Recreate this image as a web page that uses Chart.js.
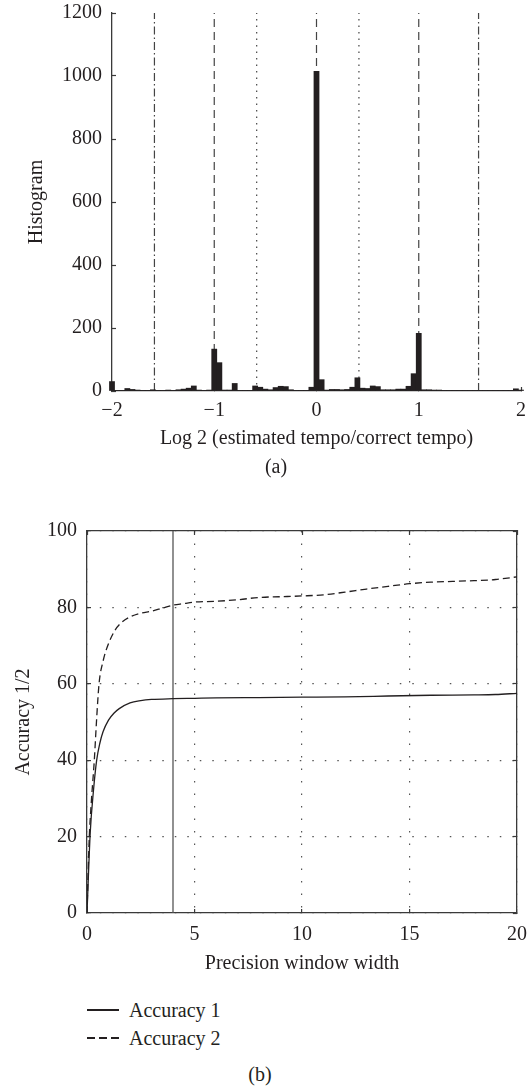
<!DOCTYPE html>
<html>
<head>
<meta charset="utf-8">
<script src="https://cdn.jsdelivr.net/npm/chart.js@4.4.1/dist/chart.umd.min.js"></script>
<style>
  body { margin: 0; background: #fff; width: 530px; height: 1088px; position: relative; overflow: hidden;
         font-family: "Liberation Serif", "Times New Roman", serif; color: #231f20; }
  canvas { position: absolute; left: 0; }
  #histChart { top: 0; }
  #accChart { top: 500px; }
  .caption { position: absolute; font-size: 20px; line-height: 24px; transform: translateX(-50%); }
  .legend { position: absolute; left: 87px; top: 996px; font-size: 20px; }
  .legend .row { display: flex; align-items: center; height: 28px; }
  .legend .swatch { width: 32px; height: 1.3px; margin-right: 10px; background: #231f20; }
  .legend .swatch.dashed { background: repeating-linear-gradient(to right, #231f20 0 8px, transparent 8px 12px); }
</style>
</head>
<body>
<canvas id="histChart" width="530" height="455"></canvas>
<div class="caption" style="left:276px; top:454px;">(a)</div>
<canvas id="accChart" width="530" height="480"></canvas>
<div class="legend">
  <div class="row"><span class="swatch"></span>Accuracy 1</div>
  <div class="row"><span class="swatch dashed"></span>Accuracy 2</div>
</div>
<div class="caption" style="left:260px; top:1062px;">(b)</div>

<script>
// (a) histogram of log2(estimated tempo / correct tempo)
const binCenters = [
  -2, -1.95, -1.9, -1.85, -1.8, -1.75, -1.7, -1.65, -1.6, -1.55,
  -1.5, -1.45, -1.4, -1.35, -1.3, -1.25, -1.2, -1.15, -1.1, -1.05,
  -1, -0.95, -0.9, -0.85, -0.8, -0.75, -0.7, -0.65, -0.6, -0.55,
  -0.5, -0.45, -0.4, -0.35, -0.3, -0.25, -0.2, -0.15, -0.1, -0.05,
  0, 0.05, 0.1, 0.15, 0.2, 0.25, 0.3, 0.35, 0.4, 0.45,
  0.5, 0.55, 0.6, 0.65, 0.7, 0.75, 0.8, 0.85, 0.9, 0.95,
  1, 1.05, 1.1, 1.15, 1.2, 1.25, 1.3, 1.35, 1.4, 1.45,
  1.5, 1.55, 1.6, 1.65, 1.7, 1.75, 1.8, 1.85, 1.9, 1.95,
  2
];
const binCounts = [
  30, 2, 2, 8, 5, 3, 2, 2, 4, 2,
  2, 3, 2, 4, 6, 9, 16, 3, 2, 3,
  133, 90, 3, 3, 24, 2, 2, 2, 16, 12,
  6, 4, 11, 15, 14, 4, 2, 2, 2, 12,
  1015, 36, 3, 5, 5, 4, 5, 12, 42, 9,
  8, 16, 14, 4, 4, 4, 6, 6, 15, 55,
  183, 4, 4, 3, 3, 2, 2, 2, 2, 2,
  2, 2, 2, 2, 2, 2, 2, 2, 2, 7,
  3
];
// reference lines: log2 of 1/3, 1/2, 2/3, 1, 4/3, 2, 3
const refLineX = [-1.585, -1, -0.585, 0, 0.415, 1, 1.585];
const refLineKind = ['dashdot', 'dash', 'dot', 'dash', 'dot', 'dash', 'dashdot'];
const histXTicks = [-2, -1, 0, 1, 2];
const histYTicks = [0, 200, 400, 600, 800, 1000, 1200];

// (b) accuracy vs precision window width
const acc1X = [0, 0.15, 0.3, 0.45, 0.6, 0.75, 1, 1.25, 1.5, 2, 2.5, 3, 4, 5, 6, 8, 10, 12, 14, 16, 18, 19, 20];
const acc1Y = [0, 21, 32, 40, 44.5, 47.5, 50.5, 52.3, 53.5, 55, 55.6, 55.9, 56.1, 56.2, 56.3, 56.4, 56.5, 56.6, 56.8, 57, 57.1, 57.2, 57.5];
const acc2X = [0, 0.1, 0.2, 0.34, 0.45, 0.56, 0.75, 1, 1.3, 1.6, 2, 2.5, 3, 3.5, 4, 4.5, 5, 6, 7, 8, 9, 10, 11, 12, 13, 14, 15, 16, 17, 18, 19, 20];
const acc2Y = [0, 19, 29, 40, 51, 60, 66, 70.5, 74, 76, 77.5, 78.5, 79, 79.8, 80.6, 81, 81.4, 81.6, 82, 82.6, 82.8, 83, 83.3, 84, 84.8, 85.5, 86.2, 86.6, 86.8, 87, 87.3, 88];
const markerX = 4;
const accXTicks = [0, 5, 10, 15, 20];
const accYTicks = [0, 20, 40, 60, 80, 100];

const ink = '#231f20';
const axisGray = '#3a3a3a';
Chart.defaults.font.family = '"Liberation Serif", "Times New Roman", serif';
Chart.defaults.font.size = 20;
Chart.defaults.color = ink;

const dashes = { dash: [8, 5], dot: [1.5, 5], dashdot: [8, 3, 1.5, 3] };
const minus = v => (v < 0 ? '\u2212' + Math.abs(v) : String(v));

// fix an axis box size and drop the label overhang padding, so the plot area
// is set only by layout.padding
const fixBox = (w, h) => s => {
  if (w !== null) s.width = w;
  if (h !== null) s.height = h;
  s.paddingTop = 0; s.paddingBottom = 0; s.paddingLeft = 0; s.paddingRight = 0;
};

const histDatasets = [{
  type: 'bar',
  data: binCenters.map((x, i) => ({ x: x, y: binCounts[i] })),
  backgroundColor: ink,
  barPercentage: 1,
  categoryPercentage: 1,
  clip: false,
  order: 0
}];
refLineX.forEach((x, i) => {
  histDatasets.push({
    type: 'line',
    data: [{ x: x, y: 0 }, { x: x, y: 1200 }],
    borderColor: '#444',
    borderWidth: 1.2,
    borderDash: dashes[refLineKind[i]],
    pointRadius: 0,
    order: 1
  });
});

new Chart(document.getElementById('histChart'), {
  type: 'bar',
  data: { datasets: histDatasets },
  options: {
    responsive: false,
    animation: false,
    layout: { padding: { left: 25, right: 9, top: 13, bottom: 0 } },
    plugins: { legend: { display: false }, tooltip: { enabled: false } },
    scales: {
      x: {
        type: 'linear', min: -2, max: 2, offset: false,
        afterBuildTicks: s => { s.ticks = histXTicks.map(v => ({ value: v })); },
        ticks: { padding: 12, callback: v => minus(v), maxRotation: 0 },
        grid: { offset: false, drawOnChartArea: false, drawTicks: true, tickLength: -4, color: axisGray, tickWidth: 1.2 },
        border: { display: true, color: axisGray, width: 1.3 },
        title: { display: true, text: 'Log 2 (estimated tempo/correct tempo)', padding: { top: 0, bottom: 4 } },
        afterFit: fixBox(null, 64)
      },
      y: {
        min: 0, max: 1200,
        afterBuildTicks: s => { s.ticks = histYTicks.map(v => ({ value: v })); },
        ticks: { padding: 14, callback: v => String(v) },
        grid: { drawOnChartArea: false, drawTicks: true, tickLength: -4, color: axisGray, tickWidth: 1.2 },
        border: { display: true, color: axisGray, width: 1.3 },
        title: { display: true, text: 'Histogram', padding: { top: 0, bottom: 0 } },
        afterFit: fixBox(87, null)
      }
    }
  }
});

const gridStyle = { color: '#555', lineWidth: 1.2, drawTicks: true, tickLength: -4, tickColor: axisGray, tickWidth: 1.2 };
new Chart(document.getElementById('accChart'), {
  type: 'line',
  data: {
    datasets: [
      {
        label: 'Accuracy 1',
        data: acc1X.map((x, i) => ({ x: x, y: acc1Y[i] })),
        borderColor: ink, borderWidth: 1.3, pointRadius: 0,
        cubicInterpolationMode: 'monotone'
      },
      {
        label: 'Accuracy 2',
        data: acc2X.map((x, i) => ({ x: x, y: acc2Y[i] })),
        borderColor: ink, borderWidth: 1.3, borderDash: [7, 4], pointRadius: 0,
        cubicInterpolationMode: 'monotone'
      },
      {
        label: 'marker',
        data: [{ x: markerX, y: 0 }, { x: markerX, y: 100 }],
        borderColor: '#555', borderWidth: 1.3, pointRadius: 0
      }
    ]
  },
  options: {
    responsive: false,
    animation: false,
    layout: { padding: { left: 12, right: 13, top: 31, bottom: 0 } },
    plugins: { legend: { display: false }, tooltip: { enabled: false } },
    scales: {
      x: {
        type: 'linear', min: 0, max: 20,
        afterBuildTicks: s => { s.ticks = accXTicks.map(v => ({ value: v })); },
        ticks: { padding: 14, maxRotation: 0 },
        grid: gridStyle,
        border: { display: true, color: axisGray, width: 1.3, dash: [1.5, 11] },
        title: { display: true, text: 'Precision window width', padding: { top: 0, bottom: 4 } },
        afterFit: fixBox(null, 67)
      },
      x2: {
        type: 'linear', position: 'top', min: 0, max: 20,
        afterBuildTicks: s => { s.ticks = accXTicks.map(v => ({ value: v })); },
        ticks: { display: false },
        grid: { drawOnChartArea: false, drawTicks: true, tickLength: -4, color: axisGray, tickWidth: 1.2 },
        border: { display: true, color: axisGray, width: 1.3 },
        afterFit: fixBox(null, 0)
      },
      y: {
        min: 0, max: 100,
        afterBuildTicks: s => { s.ticks = accYTicks.map(v => ({ value: v })); },
        ticks: { padding: 14 },
        grid: gridStyle,
        border: { display: true, color: axisGray, width: 1.3, dash: [1.5, 11] },
        title: { display: true, text: 'Accuracy 1/2', padding: { top: 0, bottom: 0 } },
        afterFit: fixBox(75, null)
      },
      y2: {
        position: 'right', min: 0, max: 100,
        afterBuildTicks: s => { s.ticks = accYTicks.map(v => ({ value: v })); },
        ticks: { display: false },
        grid: { drawOnChartArea: false, drawTicks: true, tickLength: -4, color: axisGray, tickWidth: 1.2 },
        border: { display: true, color: axisGray, width: 1.3 },
        afterFit: fixBox(0, null)
      }
    }
  }
});
</script>
</body>
</html>
